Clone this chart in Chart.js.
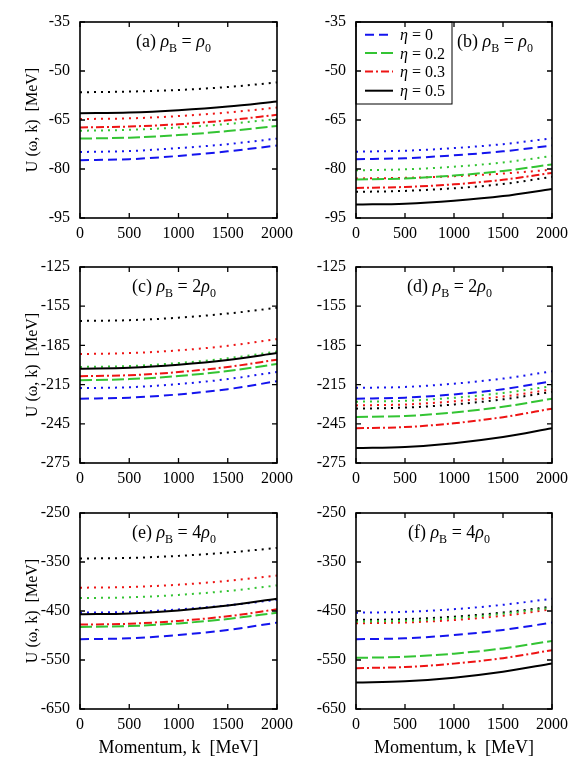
<!DOCTYPE html>
<html>
<head>
<meta charset="utf-8">
<script src="https://cdn.jsdelivr.net/npm/chart.js@4.4.1/dist/chart.umd.min.js"></script>
<style>
  body { margin: 0; background: #fff; }
  #wrap { position: relative; width: 574px; height: 771px; }
  canvas { position: absolute; }
</style>
</head>
<body>
<div id="wrap"></div>
<script>
// momentum grid, MeV
const momentum = [0, 500, 1000, 1500, 2000];
const xTicks = [0, 500, 1000, 1500, 2000];

const yTicksRho1 = [-95, -80, -65, -50, -35];
const yTicksRho2 = [-275, -245, -215, -185, -155, -125];
const yTicksRho4 = [-650, -550, -450, -350, -250];

const etaLabels = ['0', '0.2', '0.3', '0.5'];

// (a) rho_B = rho_0
const a_eta0 = [-77.3, -77.0, -76.0, -74.6, -72.8];
const a_eta02 = [-70.7, -70.4, -69.6, -68.4, -66.8];
const a_eta03 = [-67.3, -67.0, -66.3, -65.1, -63.4];
const a_eta05 = [-62.9, -62.7, -62.0, -60.9, -59.3];
const a_eta0_dot = [-74.8, -74.5, -73.6, -72.4, -70.7];
const a_eta02_dot = [-68.3, -68.0, -67.3, -66.2, -64.7];
const a_eta03_dot = [-64.7, -64.5, -63.8, -62.7, -61.2];
const a_eta05_dot = [-56.5, -56.3, -55.8, -54.9, -53.5];

// (b) rho_B = rho_0
const b_eta0 = [-77.0, -76.7, -75.8, -74.6, -72.8];
const b_eta02 = [-83.2, -82.9, -82.0, -80.6, -78.6];
const b_eta03 = [-85.8, -85.5, -84.7, -83.3, -81.2];
const b_eta05 = [-90.9, -90.6, -89.7, -88.3, -86.1];
const b_eta0_dot = [-74.7, -74.4, -73.6, -72.4, -70.6];
const b_eta02_dot = [-80.4, -80.1, -79.3, -78.0, -76.0];
const b_eta03_dot = [-82.9, -82.7, -82.2, -81.4, -80.2];
const b_eta05_dot = [-87.0, -86.7, -85.9, -84.6, -82.4];

// (c) rho_B = 2 rho_0
const c_eta0 = [-225.8, -225.0, -222.5, -218.5, -212.4];
const c_eta02 = [-211.6, -210.8, -208.4, -204.6, -199.2];
const c_eta03 = [-208.6, -207.8, -205.4, -201.5, -195.9];
const c_eta05 = [-202.8, -202.1, -199.8, -196.2, -190.9];
const c_eta0_dot = [-217.7, -217.0, -214.6, -210.8, -205.3];
const c_eta02_dot = [-201.5, -200.8, -198.5, -194.9, -189.6];
const c_eta03_dot = [-191.6, -190.9, -188.8, -185.3, -180.2];
const c_eta05_dot = [-166.3, -165.7, -163.8, -160.6, -156.2];

// (d) rho_B = 2 rho_0
const d_eta0 = [-225.8, -225.0, -222.5, -218.5, -212.4];
const d_eta02 = [-239.8, -239.0, -236.3, -232.0, -225.8];
const d_eta03 = [-248.4, -247.5, -244.6, -239.9, -233.4];
const d_eta05 = [-263.6, -262.7, -259.8, -255.1, -248.4];
const d_eta0_dot = [-217.5, -216.8, -214.3, -210.4, -204.8];
const d_eta02_dot = [-228.1, -227.4, -225.1, -221.4, -216.2];
const d_eta03_dot = [-230.9, -230.2, -227.8, -224.1, -218.7];
const d_eta05_dot = [-233.4, -232.6, -230.2, -226.3, -220.5];

// (e) rho_B = 4 rho_0
const e_eta0 = [-507.6, -505.6, -499.1, -488.6, -473.7];
const e_eta02 = [-482.5, -480.8, -475.3, -466.3, -453.4];
const e_eta03 = [-477.8, -476.0, -470.2, -460.7, -446.6];
const e_eta05 = [-456.8, -454.9, -448.8, -438.9, -424.9];
const e_eta0_dot = [-453.4, -451.9, -446.8, -438.5, -427.0];
const e_eta02_dot = [-423.6, -422.1, -417.2, -409.2, -397.8];
const e_eta03_dot = [-402.5, -401.0, -396.3, -388.5, -377.5];
const e_eta05_dot = [-342.9, -341.6, -337.5, -330.8, -321.2];

// (f) rho_B = 4 rho_0
const f_eta0 = [-507.6, -505.6, -499.1, -488.6, -473.7];
const f_eta02 = [-545.6, -543.5, -537.0, -526.3, -511.0];
const f_eta03 = [-566.6, -564.4, -557.4, -546.2, -530.0];
const f_eta05 = [-595.8, -593.5, -586.1, -574.1, -557.1];
const f_eta0_dot = [-453.4, -451.7, -446.3, -437.4, -424.9];
const f_eta02_dot = [-471.7, -470.0, -464.6, -455.7, -443.2];
const f_eta03_dot = [-475.1, -473.4, -468.4, -459.8, -446.6];
const f_eta05_dot = [-468.3, -466.7, -461.5, -453.1, -441.2];

const SERIF = '"Liberation Serif", "DejaVu Serif", serif';

const lineStyles = [
    { color: '#1414ee', dash: [9, 5] },
    { color: '#33c433', dash: [12, 4] },
    { color: '#ee1414', dash: [8, 3, 2, 3] },
    { color: '#000000', dash: [] }
];

const panels = [
    { tag: '(a) ', mult: '', col: 0, row: 0, yTicks: yTicksRho1, lx: 56,
      main: [a_eta0, a_eta02, a_eta03, a_eta05], dots: [a_eta0_dot, a_eta02_dot, a_eta03_dot, a_eta05_dot] },
    { tag: '(b) ', mult: '', col: 1, row: 0, yTicks: yTicksRho1, lx: 101, legend: true,
      main: [b_eta0, b_eta02, b_eta03, b_eta05], dots: [b_eta0_dot, b_eta02_dot, b_eta03_dot, b_eta05_dot] },
    { tag: '(c) ', mult: '2', col: 0, row: 1, yTicks: yTicksRho2, lx: 52,
      main: [c_eta0, c_eta02, c_eta03, c_eta05], dots: [c_eta0_dot, c_eta02_dot, c_eta03_dot, c_eta05_dot] },
    { tag: '(d) ', mult: '2', col: 1, row: 1, yTicks: yTicksRho2, lx: 51,
      main: [d_eta0, d_eta02, d_eta03, d_eta05], dots: [d_eta0_dot, d_eta02_dot, d_eta03_dot, d_eta05_dot] },
    { tag: '(e) ', mult: '4', col: 0, row: 2, yTicks: yTicksRho4, lx: 52,
      main: [e_eta0, e_eta02, e_eta03, e_eta05], dots: [e_eta0_dot, e_eta02_dot, e_eta03_dot, e_eta05_dot] },
    { tag: '(f) ', mult: '4', col: 1, row: 2, yTicks: yTicksRho4, lx: 52,
      main: [f_eta0, f_eta02, f_eta03, f_eta05], dots: [f_eta0_dot, f_eta02_dot, f_eta03_dot, f_eta05_dot] }
];

const plotTops = [22, 267, 513];
const plotH = 196;
const colLeft = [0, 276];
const colWidth = [300, 298];
const plotW = 197;
const yAxisW = 80;

function drawRich(ctx, parts, x, y, size) {
    ctx.textBaseline = 'alphabetic';
    ctx.textAlign = 'left';
    parts.forEach(([txt, style]) => {
        let font = size + 'px ' + SERIF;
        let dy = 0;
        if (style === 'i') font = 'italic ' + font;
        if (style === 'sub') { font = Math.round(size * 0.68) + 'px ' + SERIF; dy = size * 0.28; }
        ctx.font = font;
        ctx.fillText(txt, x, y + dy);
        x += ctx.measureText(txt).width;
    });
}

const framePlugin = {
    id: 'frame',
    afterDraw(chart) {
        const { ctx, chartArea: ca, scales: { x, y } } = chart;
        const p = chart.options.plugins.frame;
        ctx.save();
        ctx.strokeStyle = '#000';
        ctx.lineWidth = 1.3;
        ctx.setLineDash([]);
        ctx.beginPath();
        x.ticks.forEach(t => {
            const px = x.getPixelForValue(t.value);
            ctx.moveTo(px, ca.bottom); ctx.lineTo(px, ca.bottom - 5);
            ctx.moveTo(px, ca.top); ctx.lineTo(px, ca.top + 5);
        });
        y.ticks.forEach(t => {
            const py = y.getPixelForValue(t.value);
            ctx.moveTo(ca.left, py); ctx.lineTo(ca.left + 5, py);
            ctx.moveTo(ca.right, py); ctx.lineTo(ca.right - 5, py);
        });
        ctx.stroke();
        ctx.lineWidth = 1.6;
        ctx.strokeRect(ca.left, ca.top, ca.width, ca.height);

        // panel label
        ctx.fillStyle = '#000';
        drawRich(ctx, [[p.tag, 'n'], ['\u03c1', 'i'], ['B', 'sub'], [' = ' + p.mult, 'n'], ['\u03c1', 'i'], ['0', 'sub']],
            ca.left + p.lx, ca.top + 24.5, 18);

        if (p.legend) {
            const lx = ca.left, ly = ca.top;
            ctx.lineWidth = 1;
            ctx.strokeRect(lx, ly, 96, 82);
            const rows = [12.7, 31, 49.5, 68.7];
            etaLabels.forEach((lab, i) => {
                const ds = chart.data.datasets[i];
                ctx.save();
                ctx.strokeStyle = ds.borderColor;
                ctx.lineWidth = 2;
                ctx.setLineDash(ds.borderDash);
                ctx.beginPath();
                ctx.moveTo(lx + 9, ly + rows[i]);
                ctx.lineTo(lx + 37, ly + rows[i]);
                ctx.stroke();
                ctx.restore();
                ctx.fillStyle = '#000';
                drawRich(ctx, [['\u03b7', 'i'], [' = ' + lab, 'n']], lx + 44, ly + rows[i] + 5.5, 16);
            });
        }
        ctx.restore();
    }
};

const wrap = document.getElementById('wrap');

panels.forEach(p => {
    const bottomRow = p.row === 2;
    const xAxisH = bottomRow ? 58 : 32;
    const cw = colWidth[p.col];
    const ch = 22 + plotH + xAxisH;
    const canvas = document.createElement('canvas');
    canvas.width = cw;
    canvas.height = ch;
    canvas.style.left = colLeft[p.col] + 'px';
    canvas.style.top = (plotTops[p.row] - 22) + 'px';
    wrap.appendChild(canvas);

    const datasets = [];
    p.main.forEach((vals, i) => {
        datasets.push({
            label: '\u03b7 = ' + etaLabels[i],
            data: momentum.map((k, j) => ({ x: k, y: vals[j] })),
            borderColor: lineStyles[i].color,
            borderDash: lineStyles[i].dash,
            borderWidth: 2
        });
    });
    p.dots.forEach((vals, i) => {
        datasets.push({
            label: '\u03b7 = ' + etaLabels[i] + ' (dotted)',
            data: momentum.map((k, j) => ({ x: k, y: vals[j] })),
            borderColor: lineStyles[i].color,
            borderDash: [2, 5],
            borderCapStyle: 'butt',
            borderWidth: 2
        });
    });

    new Chart(canvas.getContext('2d'), {
        type: 'line',
        data: { datasets: datasets },
        options: {
            responsive: false,
            animation: false,
            devicePixelRatio: 1,
            elements: { point: { radius: 0 }, line: { cubicInterpolationMode: 'monotone' } },
            layout: { padding: { top: 22, left: 0, right: cw - yAxisW - plotW, bottom: 0 } },
            plugins: {
                legend: { display: false },
                tooltip: { enabled: false },
                frame: { tag: p.tag, mult: p.mult, lx: p.lx, legend: !!p.legend }
            },
            scales: {
                x: {
                    type: 'linear',
                    min: 0,
                    max: 2000,
                    afterBuildTicks: s => { s.ticks = xTicks.map(v => ({ value: v })); },
                    afterFit: s => { s.height = xAxisH; },
                    grid: { display: false, drawTicks: false },
                    border: { display: false },
                    ticks: {
                        color: '#000', padding: 6, maxRotation: 0,
                        font: { family: SERIF, size: 16 },
                        callback: v => String(v)
                    },
                    title: {
                        display: bottomRow,
                        text: 'Momentum, k  [MeV]',
                        color: '#000',
                        padding: { top: 0, bottom: 8 },
                        font: { family: SERIF, size: 18 }
                    }
                },
                y: {
                    type: 'linear',
                    min: p.yTicks[0],
                    max: p.yTicks[p.yTicks.length - 1],
                    afterBuildTicks: s => { s.ticks = p.yTicks.map(v => ({ value: v })); },
                    afterFit: s => { s.width = yAxisW; },
                    grid: { display: false, drawTicks: false },
                    border: { display: false },
                    ticks: {
                        color: '#000', padding: 10,
                        font: { family: SERIF, size: 16 },
                        callback: v => String(v)
                    },
                    title: {
                        display: p.col === 0,
                        text: 'U (\u03c9, k)  [MeV]',
                        color: '#000',
                        padding: { top: 23, bottom: 0 },
                        font: { family: SERIF, size: 16 }
                    }
                }
            }
        },
        plugins: [framePlugin]
    });
});
</script>
</body>
</html>
